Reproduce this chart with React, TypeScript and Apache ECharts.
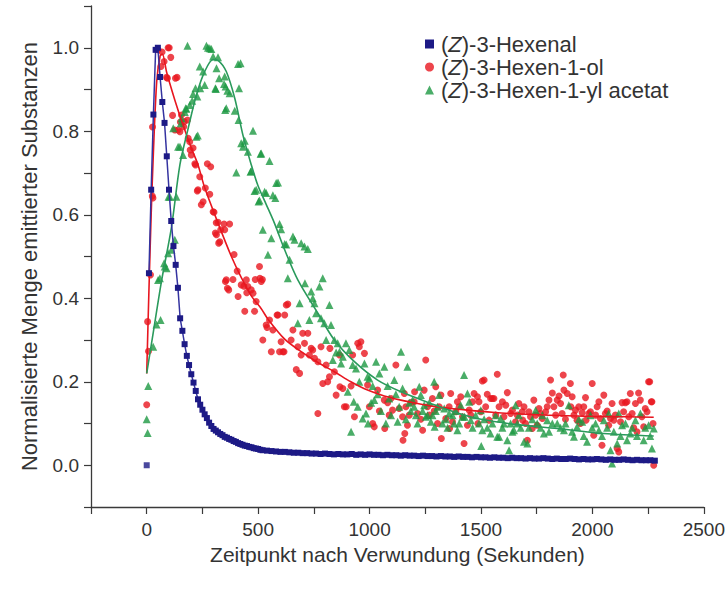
import React, { useEffect, useRef } from "react";
import * as echarts from "echarts";

// ---- Data (time in s, normalised amount) ----
const seriesNames = ["(Z)-3-Hexenal", "(Z)-3-Hexen-1-ol", "(Z)-3-Hexen-1-yl acetat"];

const xTickValues = [0, 500, 1000, 1500, 2000, 2500];
const yTickValues = [0.0, 0.2, 0.4, 0.6, 0.8, 1.0];

const hexenalFirst: number[][] = [[0, 0.0]];
const hexenal: number[][] = [
  [10, 0.46], [20, 0.66], [30, 0.84], [40, 0.995], [50, 1.0], [60, 0.93], [70, 0.87], [80, 0.82], [90, 0.74],
  [100, 0.66], [110, 0.585], [120, 0.525], [130, 0.48], [140, 0.425], [150, 0.352], [160, 0.322], [170, 0.29],
  [180, 0.262], [190, 0.24], [200, 0.218], [210, 0.198], [220, 0.178], [230, 0.158], [240, 0.145], [250, 0.133],
  [260, 0.122], [270, 0.113], [280, 0.102], [290, 0.094], [300, 0.087], [310, 0.083], [320, 0.079], [330, 0.075],
  [340, 0.072], [350, 0.068], [360, 0.066], [370, 0.063], [380, 0.061], [390, 0.058], [400, 0.056], [410, 0.053],
  [420, 0.051], [430, 0.049], [440, 0.047], [450, 0.046], [460, 0.044], [470, 0.043], [480, 0.041], [490, 0.04],
  [500, 0.039], [510, 0.037], [520, 0.036], [540, 0.035], [560, 0.034], [580, 0.033], [600, 0.032], [620, 0.032],
  [640, 0.031], [660, 0.03], [680, 0.03], [700, 0.029], [720, 0.029], [740, 0.028], [760, 0.028], [780, 0.027],
  [800, 0.028], [820, 0.027], [840, 0.026], [860, 0.027], [880, 0.026], [900, 0.026], [920, 0.027], [940, 0.025],
  [960, 0.026], [980, 0.025], [1000, 0.026], [1020, 0.025], [1040, 0.025], [1060, 0.024], [1080, 0.025],
  [1100, 0.024], [1120, 0.024], [1140, 0.023], [1160, 0.024], [1180, 0.023], [1200, 0.023], [1220, 0.022],
  [1240, 0.023], [1260, 0.022], [1280, 0.022], [1300, 0.021], [1320, 0.022], [1340, 0.021], [1360, 0.021],
  [1380, 0.02], [1400, 0.021], [1420, 0.02], [1440, 0.02], [1460, 0.019], [1480, 0.02], [1500, 0.019],
  [1520, 0.019], [1540, 0.018], [1560, 0.019], [1580, 0.018], [1600, 0.018], [1620, 0.017], [1640, 0.018],
  [1660, 0.017], [1680, 0.017], [1700, 0.016], [1720, 0.017], [1740, 0.016], [1760, 0.016], [1780, 0.017],
  [1800, 0.016], [1820, 0.015], [1840, 0.016], [1860, 0.015], [1880, 0.015], [1900, 0.016], [1920, 0.015],
  [1940, 0.014], [1960, 0.015], [1980, 0.014], [2000, 0.014], [2020, 0.015], [2040, 0.014], [2060, 0.013],
  [2080, 0.014], [2100, 0.013], [2120, 0.013], [2140, 0.014], [2160, 0.013], [2180, 0.012], [2200, 0.013],
  [2220, 0.012], [2240, 0.012], [2260, 0.012], [2280, 0.011],
];

const hexenol: number[][] = [
  [0, 0.145], [4, 0.344], [8, 0.273], [17, 0.456], [25, 0.645], [28, 0.64], [26, 0.81], [51, 0.995], [64, 0.955],
  [69, 0.99], [78, 0.967], [89, 0.929], [96, 1.0], [101, 1.0], [108, 0.977], [93, 0.927], [116, 0.838], [126, 0.803],
  [129, 0.927], [136, 0.929], [141, 0.803], [149, 0.799], [151, 0.822], [156, 0.839], [166, 0.811], [168, 0.823],
  [183, 0.827], [186, 0.783], [193, 0.775], [195, 0.755], [200, 0.743], [208, 0.76], [216, 0.722], [219, 0.719],
  [227, 0.657], [230, 0.66], [238, 0.691], [245, 0.624], [253, 0.631], [263, 0.664], [272, 0.722], [287, 0.715],
  [283, 0.649], [298, 0.607], [302, 0.606], [308, 0.556], [312, 0.581], [313, 0.552], [320, 0.582], [323, 0.532],
  [328, 0.535], [332, 0.564], [347, 0.578], [350, 0.564], [353, 0.44], [357, 0.444], [362, 0.424], [368, 0.42],
  [372, 0.578], [387, 0.445], [392, 0.505], [406, 0.465], [410, 0.404], [424, 0.432], [436, 0.429], [440, 0.369],
  [447, 0.444], [449, 0.413], [454, 0.428], [469, 0.42], [477, 0.412], [484, 0.369], [487, 0.445], [491, 0.392],
  [506, 0.476], [508, 0.448], [514, 0.44], [519, 0.445], [521, 0.3], [536, 0.336], [540, 0.33], [551, 0.348],
  [559, 0.272], [566, 0.324], [585, 0.36], [589, 0.36], [596, 0.272], [603, 0.296], [611, 0.272], [616, 0.272],
  [619, 0.36], [626, 0.384], [633, 0.386], [648, 0.3], [656, 0.324], [671, 0.229], [678, 0.284], [686, 0.22],
  [693, 0.264], [700, 0.316], [708, 0.292], [723, 0.316], [730, 0.264], [738, 0.28], [745, 0.276], [753, 0.256],
  [768, 0.248], [768, 0.124], [782, 0.284], [790, 0.196], [805, 0.24], [812, 0.2], [820, 0.212], [822, 0.28],
  [842, 0.224], [850, 0.168], [865, 0.264], [867, 0.188], [880, 0.184], [887, 0.14], [895, 0.14], [917, 0.19],
  [924, 0.264], [932, 0.116], [947, 0.292], [954, 0.284], [961, 0.296], [977, 0.268], [991, 0.192], [999, 0.14],
  [1014, 0.1], [1021, 0.092], [1036, 0.18], [1044, 0.13], [1066, 0.156], [1068, 0.088], [1081, 0.15], [1088, 0.12],
  [1096, 0.16], [1103, 0.132], [1118, 0.24], [1133, 0.136], [1148, 0.116], [1150, 0.06], [1156, 0.172],
  [1158, 0.076], [1163, 0.14], [1170, 0.096], [1178, 0.12], [1185, 0.15], [1200, 0.152], [1202, 0.176],
  [1215, 0.124], [1230, 0.11], [1238, 0.084], [1245, 0.18], [1252, 0.252], [1260, 0.14], [1268, 0.12],
  [1282, 0.16], [1290, 0.13], [1297, 0.188], [1305, 0.1], [1312, 0.14], [1320, 0.168], [1322, 0.064],
  [1342, 0.112], [1357, 0.14], [1359, 0.088], [1364, 0.172], [1372, 0.104], [1387, 0.128], [1394, 0.152],
  [1402, 0.14], [1409, 0.164], [1417, 0.116], [1424, 0.052], [1439, 0.096], [1447, 0.132], [1454, 0.12],
  [1462, 0.152], [1469, 0.172], [1484, 0.164], [1486, 0.1], [1491, 0.152], [1499, 0.128], [1506, 0.202],
  [1514, 0.204], [1521, 0.14], [1528, 0.17], [1536, 0.108], [1543, 0.16], [1551, 0.16], [1558, 0.16],
  [1566, 0.12], [1573, 0.218], [1581, 0.14], [1596, 0.152], [1603, 0.116], [1611, 0.144], [1618, 0.174],
  [1633, 0.124], [1641, 0.132], [1655, 0.104], [1663, 0.12], [1670, 0.148], [1685, 0.128], [1687, 0.108],
  [1693, 0.14], [1700, 0.1], [1708, 0.06], [1715, 0.128], [1722, 0.116], [1730, 0.088], [1737, 0.156],
  [1745, 0.12], [1752, 0.096], [1760, 0.136], [1767, 0.124], [1775, 0.112], [1790, 0.128], [1797, 0.14],
  [1805, 0.156], [1812, 0.204], [1820, 0.173], [1827, 0.14], [1835, 0.12], [1842, 0.156], [1850, 0.166],
  [1857, 0.148], [1864, 0.124], [1869, 0.216], [1872, 0.18], [1879, 0.11], [1887, 0.172], [1901, 0.196],
  [1903, 0.14], [1909, 0.164], [1917, 0.12], [1924, 0.132], [1931, 0.108], [1939, 0.14], [1946, 0.1],
  [1954, 0.126], [1961, 0.14], [1969, 0.162], [1971, 0.108], [1984, 0.124], [1991, 0.128], [1999, 0.196],
  [2006, 0.072], [2014, 0.12], [2021, 0.14], [2029, 0.152], [2036, 0.112], [2043, 0.048], [2051, 0.168],
  [2058, 0.124], [2066, 0.13], [2073, 0.096], [2081, 0.112], [2088, 0.148], [2096, 0.108], [2103, 0.12],
  [2111, 0.04], [2118, 0.032], [2126, 0.104], [2133, 0.15], [2140, 0.128], [2148, 0.15], [2155, 0.152],
  [2163, 0.116], [2170, 0.172], [2178, 0.124], [2185, 0.09], [2193, 0.148], [2200, 0.08], [2207, 0.173],
  [2215, 0.156], [2222, 0.116], [2230, 0.092], [2237, 0.136], [2245, 0.128], [2252, 0.2], [2257, 0.2],
  [2264, 0.152], [2267, 0.152], [2272, 0.1], [2275, 0.0],
];

const hexenylAcetate: number[][] = [
  [0, 0.11], [4, 0.077], [7, 0.19], [29, 0.284], [44, 0.337], [51, 0.444], [59, 0.448], [62, 0.348], [78, 0.484],
  [81, 0.476], [89, 0.472], [96, 0.508], [98, 0.643], [104, 0.643], [111, 0.516], [119, 0.807], [126, 0.54],
  [133, 0.643], [141, 0.763], [149, 0.763], [153, 0.819], [156, 0.831], [163, 0.743], [171, 0.846], [175, 0.855],
  [178, 0.854], [183, 1.005], [193, 0.863], [204, 0.873], [208, 0.889], [219, 0.903], [223, 0.787], [227, 0.883],
  [229, 0.79], [238, 0.955], [240, 0.903], [253, 0.943], [260, 0.911], [268, 1.005], [275, 1.0], [283, 0.999],
  [290, 0.997], [298, 0.979], [308, 0.903], [310, 0.901], [313, 0.951], [320, 0.977], [325, 0.927], [347, 0.913],
  [350, 0.931], [352, 0.851], [354, 0.907], [357, 0.855], [362, 0.897], [372, 0.891], [395, 0.849], [402, 0.701],
  [410, 0.961], [412, 0.827], [414, 0.903], [421, 0.963], [424, 0.771], [432, 0.763], [440, 0.777], [454, 0.751],
  [466, 0.703], [469, 0.705], [477, 0.801], [484, 0.657], [491, 0.66], [502, 0.632], [506, 0.634], [511, 0.746],
  [514, 0.747], [521, 0.564], [529, 0.655], [536, 0.652], [544, 0.504], [551, 0.729], [559, 0.544], [566, 0.647],
  [577, 0.64], [581, 0.676], [589, 0.677], [596, 0.578], [603, 0.565], [619, 0.53], [626, 0.529], [633, 0.448],
  [641, 0.492], [656, 0.548], [663, 0.54], [678, 0.34], [686, 0.388], [693, 0.532], [708, 0.524], [710, 0.436],
  [723, 0.518], [730, 0.348], [738, 0.416], [745, 0.4], [753, 0.388], [760, 0.364], [775, 0.428], [782, 0.352],
  [790, 0.448], [797, 0.34], [805, 0.3], [820, 0.384], [827, 0.336], [835, 0.252], [842, 0.3], [850, 0.27],
  [857, 0.292], [865, 0.272], [872, 0.244], [880, 0.26], [894, 0.292], [902, 0.176], [909, 0.276], [917, 0.08],
  [924, 0.24], [929, 0.152], [939, 0.232], [947, 0.14], [954, 0.2], [969, 0.112], [977, 0.244], [984, 0.124],
  [991, 0.212], [993, 0.1], [999, 0.208], [1007, 0.15], [1014, 0.19], [1021, 0.156], [1029, 0.248], [1036, 0.17],
  [1044, 0.22], [1051, 0.13], [1066, 0.236], [1073, 0.1], [1081, 0.19], [1088, 0.16], [1096, 0.12], [1111, 0.204],
  [1118, 0.17], [1126, 0.104], [1133, 0.14], [1141, 0.272], [1148, 0.184], [1163, 0.11], [1170, 0.236],
  [1178, 0.15], [1185, 0.13], [1193, 0.156], [1200, 0.14], [1208, 0.12], [1215, 0.1], [1223, 0.188], [1230, 0.168],
  [1238, 0.13], [1245, 0.144], [1252, 0.116], [1260, 0.12], [1268, 0.15], [1275, 0.104], [1282, 0.12],
  [1290, 0.2], [1292, 0.092], [1297, 0.13], [1305, 0.14], [1312, 0.168], [1327, 0.1], [1335, 0.136],
  [1342, 0.11], [1350, 0.09], [1357, 0.124], [1372, 0.12], [1379, 0.1], [1387, 0.13], [1394, 0.084],
  [1402, 0.1], [1409, 0.144], [1417, 0.116], [1424, 0.216], [1426, 0.116], [1439, 0.172], [1447, 0.152],
  [1454, 0.108], [1462, 0.09], [1476, 0.12], [1491, 0.1], [1499, 0.132], [1501, 0.046], [1506, 0.084],
  [1514, 0.11], [1528, 0.09], [1543, 0.076], [1551, 0.1], [1566, 0.12], [1573, 0.068], [1581, 0.068],
  [1588, 0.112], [1596, 0.09], [1603, 0.1], [1618, 0.06], [1626, 0.036], [1633, 0.1], [1641, 0.08],
  [1648, 0.084], [1655, 0.144], [1663, 0.1], [1670, 0.12], [1678, 0.09], [1693, 0.056], [1708, 0.052],
  [1715, 0.09], [1730, 0.11], [1745, 0.132], [1752, 0.1], [1767, 0.09], [1775, 0.12], [1782, 0.076],
  [1797, 0.108], [1805, 0.08], [1820, 0.1], [1842, 0.1], [1857, 0.09], [1872, 0.084], [1879, 0.1],
  [1894, 0.144], [1909, 0.08], [1917, 0.068], [1931, 0.092], [1939, 0.11], [1954, 0.104], [1961, 0.07],
  [1976, 0.056], [1991, 0.12], [1999, 0.09], [2014, 0.1], [2029, 0.084], [2043, 0.07], [2051, 0.108],
  [2066, 0.09], [2073, 0.124], [2081, 0.036], [2088, 0.004], [2096, 0.08], [2111, 0.052], [2118, 0.124],
  [2126, 0.07], [2133, 0.096], [2148, 0.1], [2155, 0.06], [2170, 0.076], [2178, 0.09], [2193, 0.108],
  [2200, 0.07], [2215, 0.124], [2230, 0.06], [2237, 0.09], [2252, 0.096], [2259, 0.07], [2267, 0.04],
  [2275, 0.088],
];

const hexenolFit: number[][] = [
  [0, 0.22], [10, 0.42], [20, 0.6], [30, 0.75], [45, 0.92], [60, 0.98], [70, 0.985], [90, 0.94], [126, 0.875],
  [163, 0.815], [200, 0.76], [230, 0.72], [260, 0.665], [320, 0.58], [380, 0.5], [424, 0.45], [470, 0.405],
  [514, 0.375], [544, 0.35], [619, 0.302], [693, 0.272], [768, 0.246], [842, 0.224], [916, 0.2], [991, 0.18],
  [1066, 0.166], [1141, 0.156], [1215, 0.148], [1290, 0.141], [1365, 0.136], [1439, 0.132], [1550, 0.127],
  [1700, 0.122], [1850, 0.119], [2000, 0.117], [2150, 0.116], [2275, 0.115],
];

const hexenylAcetateFit: number[][] = [
  [0, 0.22], [30, 0.32], [66, 0.44], [111, 0.57], [149, 0.72], [186, 0.807], [223, 0.887], [260, 0.943],
  [298, 0.972], [320, 0.97], [357, 0.943], [395, 0.879], [432, 0.79], [469, 0.72], [499, 0.67], [536, 0.625],
  [573, 0.58], [619, 0.516], [678, 0.444], [768, 0.364], [842, 0.3], [932, 0.248], [1036, 0.204], [1141, 0.176],
  [1290, 0.145], [1394, 0.125], [1500, 0.11], [1650, 0.098], [1842, 0.088], [2050, 0.076], [2275, 0.07],
];

// ---- Styling ----
const BLUE = "#1d1a86";
const RED = "#e8161f";
const GREEN = "#1d9942";
const AXIS = "#3a3a3a";
const TEXT = "#333333";

export default function App() {
  const ref = useRef<HTMLDivElement>(null);

  useEffect(() => {
    if (!ref.current) return;
    const chart = echarts.init(ref.current, undefined, { renderer: "svg" });
    const font = "Liberation Sans, Arial, sans-serif";

    const option: any = {
      animation: false,
      backgroundColor: "#ffffff",
      textStyle: { fontFamily: font },
      grid: { left: 91, right: 21, top: 6, bottom: 83 },
      legend: {
        orient: "vertical",
        left: 420,
        top: 28,
        itemWidth: 9,
        itemHeight: 9,
        itemGap: 1,
        selectedMode: false,
        data: [
          { name: seriesNames[0], icon: "rect" },
          { name: seriesNames[1], icon: "circle" },
          { name: seriesNames[2], icon: "triangle" },
        ],
        formatter: (n: string) => n.replace("(Z)", "({i|Z})"),
        textStyle: {
          fontFamily: font,
          fontSize: 22,
          lineHeight: 22,
          color: TEXT,
          padding: [0, 0, 0, 2],
          rich: { i: { fontFamily: font, fontSize: 22, lineHeight: 22, fontStyle: "italic", color: TEXT } },
        },
      },
      xAxis: {
        type: "value",
        min: -250,
        max: 2500,
        interval: 250,
        name: "Zeitpunkt nach Verwundung (Sekunden)",
        nameLocation: "middle",
        nameGap: 32,
        nameTextStyle: { fontFamily: font, fontSize: 21, color: TEXT },
        axisLine: { show: true, onZero: false, lineStyle: { color: AXIS, width: 1.3 } },
        axisTick: { show: true, inside: false, length: 7, lineStyle: { color: AXIS, width: 1.2 } },
        axisLabel: {
          fontFamily: font,
          fontSize: 19,
          color: TEXT,
          margin: 13,
          formatter: (v: number) => (xTickValues.indexOf(v) >= 0 ? String(v) : ""),
        },
        splitLine: { show: false },
      },
      yAxis: {
        type: "value",
        min: -0.1,
        max: 1.1,
        interval: 0.1,
        name: "Normalisierte Menge emittierter Substanzen",
        nameLocation: "middle",
        nameGap: 51,
        nameTextStyle: { fontFamily: font, fontSize: 22, color: TEXT },
        axisLine: { show: true, onZero: false, lineStyle: { color: AXIS, width: 1.3 } },
        axisTick: { show: true, inside: false, length: 7, lineStyle: { color: AXIS, width: 1.2 } },
        axisLabel: {
          fontFamily: font,
          fontSize: 19,
          color: TEXT,
          margin: 12,
          formatter: (v: number) => {
            const k = Math.round(v * 10);
            const hit = yTickValues.some((t) => Math.round(t * 10) === k);
            return hit ? (k / 10).toFixed(1) : "";
          },
        },
        splitLine: { show: false },
      },
      series: [
        {
          name: seriesNames[1],
          type: "scatter",
          data: hexenol,
          symbol: "circle",
          symbolSize: 7,
          itemStyle: { color: RED },
          z: 2,
        },
        {
          name: seriesNames[2],
          type: "scatter",
          data: hexenylAcetate,
          symbol: "triangle",
          symbolSize: 8,
          itemStyle: { color: GREEN },
          z: 3,
        },
        {
          name: "fit-ol",
          type: "line",
          data: hexenolFit,
          smooth: 0.3,
          showSymbol: false,
          symbol: "none",
          lineStyle: { color: RED, width: 1.6 },
          z: 4,
        },
        {
          name: "fit-acetat",
          type: "line",
          data: hexenylAcetateFit,
          smooth: 0.3,
          showSymbol: false,
          symbol: "none",
          lineStyle: { color: "#2a9a5c", width: 1.6 },
          z: 4,
        },
        {
          name: seriesNames[0],
          type: "line",
          data: hexenal,
          symbol: "rect",
          symbolSize: 6,
          showAllSymbol: true,
          itemStyle: { color: BLUE },
          lineStyle: { color: "#3433a0", width: 1.5 },
          z: 5,
        },
        {
          name: seriesNames[0],
          type: "scatter",
          data: hexenalFirst,
          symbol: "rect",
          symbolSize: 6,
          itemStyle: { color: BLUE },
          z: 5,
        },
      ],
    };

    chart.setOption(option);
    return () => chart.dispose();
  }, []);

  return (
    <div
      ref={ref}
      style={{ position: "fixed", left: 0, top: 0, width: 728, height: 590, background: "#fff" }}
    />
  );
}
